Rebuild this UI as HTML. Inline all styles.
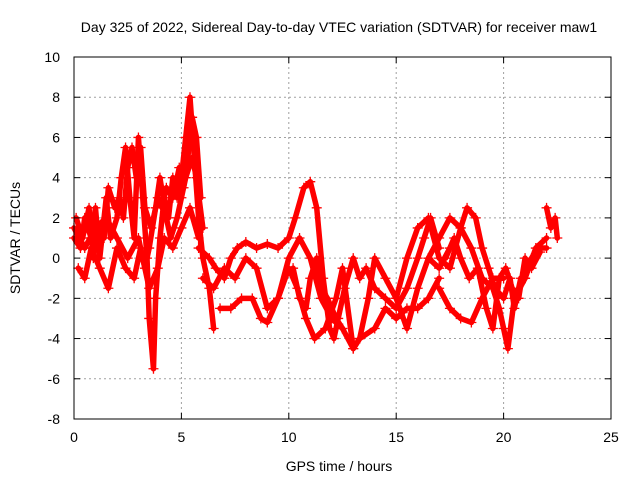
<!DOCTYPE html>
<html><head><meta charset="utf-8"><style>
body{margin:0;background:#fff}
svg{display:block;font-family:"Liberation Sans",sans-serif}
</style></head><body>
<svg id="chart" width="640" height="480">
<text x="339" y="32" font-size="14" text-anchor="middle">Day 325 of 2022, Sidereal Day-to-day VTEC variation (SDTVAR) for receiver maw1</text>
<text x="339" y="471" font-size="14" text-anchor="middle">GPS time / hours</text>
<text x="20" y="238" font-size="14" text-anchor="middle" transform="rotate(-90 20 238)">SDTVAR / TECUs</text>
<g id="grid"></g><g id="series"></g><g id="axes"></g>
</svg>
<script>
const xTicks=[0,5,10,15,20,25];
const yTicks=[-8,-6,-4,-2,0,2,4,6,8,10];
const trackA=[[0,1],[0.3,0.5],[0.5,2],[0.8,1],[1,2.5],[1.2,0],[1.5,3],[1.7,1],[2,2],[2.2,4],[2.4,5.5],[2.6,3],[2.8,1],[3,6],[3.2,3],[3.4,0],[3.5,-3],[3.7,-5.5],[3.8,-2],[4,1],[4.2,3],[4.4,2],[4.6,4],[4.8,3],[5,4],[5.2,6],[5.4,8],[5.6,5],[5.8,2],[6,0],[6.3,-1.5],[6.5,-3.5]];
const trackB=[[0,1.5],[0.5,0.5],[1,1.5],[1.5,2],[2,1],[2.5,0],[3,1],[3.3,-0.5],[3.5,0.5],[3.8,2.5],[4,4],[4.3,2],[4.5,1],[4.8,2],[5,3],[5.2,4],[5.5,5],[5.7,4],[6,1.5]];
const trackC=[[5.8,0.5],[6.3,0],[6.6,-0.5],[7,-1],[7.3,0],[7.6,0.5],[8,0.8],[8.5,0.5],[9,0.7],[9.5,0.5],[10,1],[10.3,2],[10.7,3.5],[11,3.8],[11.3,2.5],[11.6,-1],[11.9,-3.5],[12.1,-4],[12.3,-3],[12.6,-1.5],[13,0],[13.3,-1],[13.6,-0.5],[14,-1.5],[14.5,-2],[15,-2.5],[15.5,-1.5],[16,0],[16.3,1],[16.6,2],[17,0.5]];
const trackD=[[6,-1],[6.5,-1.5],[7,-0.5],[7.5,-1],[8,0],[8.5,-0.5],[9,-2.5],[9.5,-2],[10,0],[10.5,1],[11,0],[11.5,-2],[12,-3],[12.5,-3.5],[13,-4.5],[13.3,-4],[13.7,-2],[14,0],[14.5,-1],[15,-2],[15.5,-3.5],[16,-1.5],[16.5,0],[17,-0.5],[17.5,0.5]];
const trackE=[[6.8,-2.5],[7.3,-2.5],[7.8,-2],[8.3,-2],[8.7,-3],[9,-3.2],[9.5,-2],[10,-0.5],[10.4,-1.5],[10.8,-3],[11.2,-4],[11.7,-3.5],[12.2,-2],[12.5,-0.5],[13,-4.5],[13.3,-4],[14,-3.5],[14.5,-2.5],[15,-3],[15.5,-2.5],[16,-2.5],[16.5,-2],[17,-1]];
const trackF=[[10.2,-0.5],[10.5,-2],[10.8,-2.5],[11,-1],[11.3,0],[11.5,-1.5],[11.8,-2],[12.2,-3],[12.5,-3.5]];
const trackG=[[15,-2],[15.5,0],[16,1.5],[16.5,2],[17,0],[17.5,-0.5],[18,1.5],[18.3,2.5],[18.7,2],[19,0.5],[19.3,-0.5],[19.6,-1.5],[20,-2],[20.3,-1],[20.5,-2.5],[20.8,-1],[21,-1],[21.3,0],[21.6,0.5],[22,0.5]];
const trackH=[[16.5,0],[17,1],[17.5,2],[18,1.5],[18.5,0.5],[19,-1],[19.5,-1.5],[19.8,-2.5],[20,-3.5],[20.2,-4.5],[20.5,-2],[21,-1],[21.5,0.5],[22,1]];
const trackI=[[17,-1.5],[17.5,-2.5],[18,-3],[18.5,-3.2],[19,-2],[19.5,-1],[20,-1]];
const trackJ=[[22,2.5],[22.2,1.5],[22.4,2],[22.5,1]];
const trackK=[[0.1,2],[0.4,1],[0.7,2.5],[0.9,0],[1.1,1.5],[1.4,1],[1.6,3.5],[1.9,2.5],[2.1,3],[2.3,2],[2.5,4.5],[2.7,5.5],[2.9,4],[3.1,5.5],[3.3,2.5],[3.6,1.5],[3.9,3],[4.1,2.5],[4.3,3.5],[4.6,3],[4.9,4.5],[5.1,3.5],[5.3,5],[5.5,7],[5.7,6],[5.9,3]];
const trackL=[[0.2,-0.5],[0.5,-1],[0.8,0.5],[1.2,-0.5],[1.6,-1.5],[2,0.5],[2.4,-0.5],[2.8,-1],[3.1,0.5],[3.5,-1.5],[3.9,-0.5],[4.2,1],[4.6,0.5],[5,1.5],[5.4,2.5],[5.8,1]];
const trackM=[[17.3,0],[17.7,1],[18,0],[18.4,-1],[18.8,-0.5],[19.2,-2.5],[19.5,-3.5],[19.8,-1],[20.1,-0.5],[20.4,-1.5],[20.7,-2],[21,0],[21.3,-0.5],[21.7,0.3]];
const tracks=[trackA,trackB,trackC,trackD,trackE,trackF,trackG,trackH,trackI,trackJ,trackK,trackL,trackM];
const L=74,R=611,T=57,B=419;
const xs=v=>L+(v-0)/25*(R-L);
const ys=v=>B-(v+8)/18*(B-T);
const NS="http://www.w3.org/2000/svg";
function mk(tag,parent,attrs){const e=document.createElementNS(NS,tag);for(const k in attrs)e.setAttribute(k,attrs[k]);parent.appendChild(e);return e;}
const grid=document.getElementById('grid'),axes=document.getElementById('axes'),ser=document.getElementById('series');
xTicks.forEach(t=>{
 if(t>0&&t<25){const g=mk('line',grid,{x1:xs(t),x2:xs(t),y1:T,y2:B,stroke:'#a0a0a0','stroke-dasharray':'2,3'});
 
 }
 const tk=mk('line',axes,{x1:xs(t),x2:xs(t),y1:B,y2:B-6,stroke:'#000'});
 
 
 const tk2=mk('line',axes,{x1:xs(t),x2:xs(t),y1:T,y2:T+6,stroke:'#000'});
 
 
 const lb=mk('text',axes,{x:xs(t),y:B+23,'font-size':14,'text-anchor':'middle'});lb.textContent=t;
 
 
});
yTicks.forEach(t=>{
 if(t>-8&&t<10){const g=mk('line',grid,{x1:L,x2:R,y1:ys(t),y2:ys(t),stroke:'#a0a0a0','stroke-dasharray':'2,3'});
 
 }
 const tk=mk('line',axes,{x1:L,x2:L+6,y1:ys(t),y2:ys(t),stroke:'#000'});
 
 
 const tk2=mk('line',axes,{x1:R,x2:R-6,y1:ys(t),y2:ys(t),stroke:'#000'});
 
 
 const lb=mk('text',axes,{x:L-14,y:ys(t)+5,'font-size':14,'text-anchor':'end'});lb.textContent=t;
 
 
});
const fr=mk('rect',axes,{x:L,y:T,width:R-L,height:B-T,fill:'none',stroke:'#000'});


tracks.forEach(tr=>{
 const p=mk('polyline',ser,{points:tr.map(d=>xs(d[0])+','+ys(d[1])).join(' '),fill:'none',stroke:'#f00','stroke-width':5.5,'stroke-linejoin':'round','stroke-linecap':'round'});
 
 
 tr.forEach(d=>{
  const x=xs(d[0]),y=ys(d[1]);
  const m=mk('path',ser,{d:`M${x-5},${y}H${x+5}M${x},${y-5}V${y+5}`,stroke:'#f00','stroke-width':1.3});
  
  
 });
});
</script>
</body></html>
